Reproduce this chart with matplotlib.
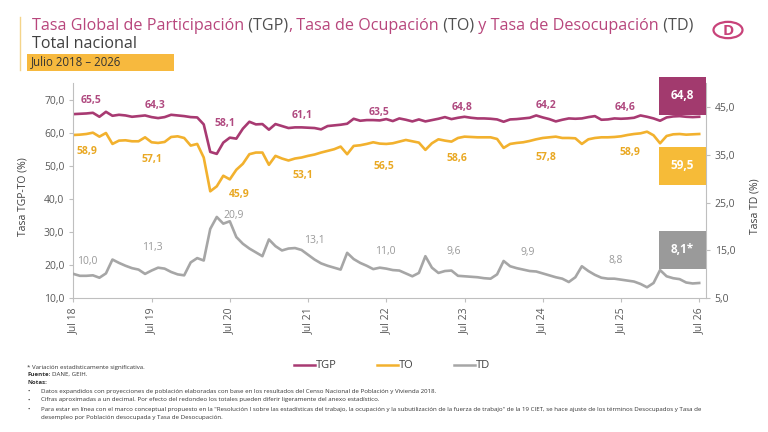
import matplotlib
matplotlib.use("Agg")
import matplotlib.pyplot as plt
from matplotlib.patches import Rectangle, Circle
from matplotlib.lines import Line2D

plt.rcParams['font.family'] = ['Open Sans', 'DejaVu Sans']

# series mensuales jul 2018 - jul 2026
tgp = [65.6, 65.7, 65.8, 66.0, 64.8, 66.3, 65.1, 65.4, 65.2, 64.8, 65.0, 65.2,
       64.7, 64.4, 64.7, 65.4, 65.2, 65.0, 64.7, 64.6, 62.5, 54.2, 53.6, 57.0,
       58.5, 58.2, 61.2, 63.3, 62.5, 62.6, 60.9, 62.6, 62.0, 61.4, 61.6, 61.6,
       61.5, 61.4, 61.0, 62.0, 62.2, 62.4, 62.7, 64.2, 63.6, 63.8, 63.8, 63.7,
       64.1, 63.5, 64.3, 63.9, 63.4, 64.0, 63.4, 63.8, 64.2, 64.7, 64.1, 64.5,
       64.8, 64.5, 64.3, 64.3, 64.2, 64.0, 63.3, 64.0, 64.1, 64.3, 64.5, 65.2,
       64.6, 64.1, 63.4, 63.9, 64.3, 64.2, 64.3, 64.7, 65.0, 63.9, 64.0, 64.3,
       64.2, 64.3, 64.5, 65.2, 64.8, 64.3, 63.6, 64.6, 64.9, 65.0, 64.8, 64.7,
       64.8]
to = [59.3, 59.4, 59.6, 60.0, 58.8, 59.9, 56.6, 57.6, 57.7, 57.4, 57.4, 58.6,
      57.1, 56.9, 57.2, 58.7, 58.9, 58.4, 56.1, 56.6, 52.5, 42.3, 43.8, 47.0,
      45.9, 48.8, 50.6, 53.5, 54.0, 54.0, 50.3, 53.0, 52.2, 51.6, 52.2, 52.5,
      53.0, 53.4, 54.0, 54.5, 55.0, 55.8, 53.5, 56.0, 56.2, 56.6, 57.1, 56.7,
      56.6, 56.8, 57.3, 57.8, 57.4, 57.0, 54.8, 56.8, 58.0, 57.6, 57.3, 58.4,
      58.8, 58.7, 58.6, 58.6, 58.6, 58.1, 55.4, 56.6, 56.9, 57.1, 57.5, 58.0,
      58.4, 58.6, 58.8, 58.4, 58.4, 58.3, 56.6, 58.0, 58.4, 58.6, 58.6, 58.7,
      58.9, 59.3, 59.6, 59.8, 60.3, 59.2, 56.8, 59.0, 59.5, 59.6, 59.4, 59.5,
      59.6]
td = [10.1, 9.7, 9.7, 9.8, 9.3, 10.2, 13.1, 12.4, 11.8, 11.3, 11.0, 10.1,
      10.8, 11.4, 11.2, 10.5, 10.0, 9.8, 12.5, 13.4, 12.9, 19.5, 22.0, 20.6,
      21.1, 17.8, 16.4, 15.4, 14.6, 13.8, 17.3, 15.9, 15.0, 15.4, 15.5, 15.1,
      14.1, 13.1, 12.3, 11.8, 11.4, 11.0, 14.5, 13.2, 12.4, 11.8, 11.1, 11.4,
      11.2, 10.9, 10.8, 10.2, 9.6, 10.3, 13.8, 11.4, 10.3, 10.7, 10.8, 9.7,
      9.6, 9.5, 9.4, 9.2, 9.1, 10.0, 12.8, 11.7, 11.3, 11.0, 10.7, 10.6,
      10.2, 9.8, 9.4, 9.1, 8.4, 9.4, 11.7, 10.7, 9.9, 9.3, 9.1, 9.1,
      8.9, 8.7, 8.5, 8.0, 7.3, 8.2, 10.9, 9.6, 9.2, 9.0, 8.3, 8.1,
      8.2]
tick_labels = ["Jul 18", "Jul 19", "Jul 20", "Jul 21", "Jul 22",
               "Jul 23", "Jul 24", "Jul 25", "Jul 26"]
tgp_jul = [65.5, 64.3, 58.1, 61.1, 63.5, 64.8, 64.2, 64.6]
to_jul = [58.9, 57.1, 45.9, 53.1, 56.5, 58.6, 57.8, 58.9]
td_jul = [10.0, 11.3, 20.9, 13.1, 11.0, 9.6, 9.9, 8.8]
ultimo = ["64,8", "59,5", "8,1*"]

C_TGP = "#A83A72"
C_TO = "#F2B12E"
C_TD = "#A6A6A6"
C_TXT = "#595959"
C_AX = "#BFBFBF"

# desplazamiento de las etiquetas (puntos)
tgp_off = [(12.7, 9.6), (2.2, 8.5), (-3.8, 10.2), (-4.5, 8.6), (-5.3, 4.6),
           (-2, 6.7), (2.4, 8.9), (2.9, 8.1)]
to_off = [(9.6, -12.2), (0, -12.7), (6.6, -10.6), (-4, -14.5), (-1.7, -16.4),
          (-5.4, -15.4), (2.4, -14.1), (6.5, -11.3)]
td_off = [(10.2, 8.6), (0.4, 16.6), (3, 4.5), (4.3, 10.2), (-0.9, 12.3),
          (-7.6, 18), (-10.9, 15.4), (-3.6, 13.8)]


def fmt(v):
    return f"{v:.1f}".replace(".", ",")


fig = plt.figure(figsize=(7.68, 4.32), dpi=100)
ax = fig.add_axes([0.0955, 0.3095, 0.8234, 0.4984])
ax2 = ax.twinx()

x = list(range(len(tgp)))
ax.plot(x, tgp, color=C_TGP, lw=1.9, solid_joinstyle='round')
ax.plot(x, to, color=C_TO, lw=1.9, solid_joinstyle='round')
ax2.plot(x, td, color=C_TD, lw=1.9, solid_joinstyle='round')

ax.set_xlim(0, 97)
ax.set_ylim(10, 75)
ax2.set_ylim(5, 50)

ax.set_xticks(range(0, 97, 12))
ax.set_xticklabels(tick_labels, rotation=90)
ax.set_yticks(range(10, 71, 10))
ax.set_yticklabels([fmt(v) for v in range(10, 71, 10)])
ax2.set_yticks(range(5, 46, 10))
ax2.set_yticklabels([fmt(v) for v in range(5, 46, 10)])

for a in (ax, ax2):
    a.tick_params(colors=C_AX, labelcolor=C_TXT, labelsize=7.5, length=3, width=0.8)
    a.spines['top'].set_visible(False)
for s in ('left', 'bottom'):
    ax.spines[s].set_color(C_AX)
    ax2.spines[s].set_visible(False)
ax.spines['right'].set_visible(False)
ax2.spines['right'].set_color(C_AX)

ax.set_ylabel("Tasa TGP-TO (%)", fontsize=7.5, color="#404040")
ax.yaxis.set_label_coords(-0.071, 0.47)
ax2.set_ylabel("Tasa TD (%)", fontsize=7.5, color="#404040")
ax2.yaxis.set_label_coords(1.07, 0.43)

# etiquetas de julio
for k in range(len(tgp_jul)):
    i = 12 * k
    ax.annotate(fmt(tgp_jul[k]), (i, tgp[i]), xytext=tgp_off[k], textcoords='offset points',
                ha='center', va='center', fontsize=7.5, fontweight='bold', color="#B04A80")
    ax.annotate(fmt(to_jul[k]), (i, to[i]), xytext=to_off[k], textcoords='offset points',
                ha='center', va='center', fontsize=7.5, fontweight='bold', color="#E9A823")
    ax2.annotate(fmt(td_jul[k]), (i, td[i]), xytext=td_off[k], textcoords='offset points',
                 ha='center', va='center', fontsize=7.5, color="#999999")

# cajas con el ultimo dato
cajas = [(0.851, "#A23A6E"), (0.526, "#F6BB38"), (0.136, "#9A9A9A")]
for (y0, c), txt in zip(cajas, ultimo):
    ax2.add_patch(Rectangle((0.926, y0), 0.074, 0.178, transform=ax2.transAxes,
                            facecolor=c, edgecolor='none', clip_on=False, zorder=5))
    ax2.text(0.963, y0 + 0.089, txt, transform=ax2.transAxes, ha='center', va='center',
             color='white', fontsize=8.5, fontweight='bold', zorder=6)

# titulo en varios colores
C_TIT = "#B8467C"
partes = [("Tasa Global de Participación", C_TIT), (" (TGP)", "#505050"), (",", C_TIT),
          (" Tasa de Ocupación", C_TIT), (" (TO)", "#505050"),
          (" y Tasa de Desocupación", C_TIT), (" (TD)", "#505050")]
renderer = fig.canvas.get_renderer()


def ancho(s, size, weight='normal'):
    t1 = fig.text(0, 0, "|" + s + "|", fontsize=size, fontweight=weight)
    t2 = fig.text(0, 0, "||", fontsize=size, fontweight=weight)
    w = t1.get_window_extent(renderer).width - t2.get_window_extent(renderer).width
    t1.remove()
    t2.remove()
    return w


xp = 32
for s, c in partes:
    fig.text(xp / 768, 1 - 29.5 / 432, s, fontsize=11.6, color=c, va='baseline')
    xp += ancho(s, 11.6)

fig.text(32 / 768, 1 - 48.5 / 432, "Total nacional", fontsize=11.6, color="#404040", va='baseline')
fig.patches.append(Rectangle((27 / 768, 1 - 70.5 / 432), 147 / 768, 17 / 432,
                             transform=fig.transFigure, facecolor="#F7B93E",
                             edgecolor='none'))
fig.text(31 / 768, 1 - 62 / 432, "Julio 2018 – 2026", fontsize=8.3, color="#333333", va='center')
fig.lines.append(Line2D([20 / 768, 20 / 768], [1 - 17 / 432, 1 - 70 / 432],
                        transform=fig.transFigure, color="#F4D48A", lw=1))

# logo
fig.patches.append(Circle((728 / 768, 1 - 30 / 432), 14.5 / 768, transform=fig.transFigure,
                          facecolor='none', edgecolor="#C8437A", lw=1.6))
fig.text(728.5 / 768, 1 - 31 / 432, "D", fontsize=11, fontweight='bold', color="#C8437A",
         ha='center', va='center')

# leyenda
handles = [Line2D([], [], color=C_TGP, lw=1.8), Line2D([], [], color=C_TO, lw=1.8),
           Line2D([], [], color=C_TD, lw=1.8)]
fig.legend(handles, ["TGP", "TO", "TD"], loc='center', bbox_to_anchor=(392 / 768, 1 - 366 / 432),
           ncol=3, frameon=False, fontsize=8, handlelength=1.9, handletextpad=0.1,
           columnspacing=3.6, labelcolor="#404040")

# notas
fs = 4.4
fig.text(27 / 768, 1 - 367 / 432, "* Variación estadísticamente significativa.", fontsize=fs,
         color="#333333", va='center')
fig.text(27 / 768, 1 - 374.5 / 432, "Fuente:", fontsize=fs, fontweight='bold',
         color="#333333", va='center')
fig.text((27 + ancho("Fuente: ", fs, 'bold')) / 768, 1 - 374.5 / 432, "DANE, GEIH.",
         fontsize=fs, color="#333333", va='center')
fig.text(27 / 768, 1 - 382 / 432, "Notas:", fontsize=fs, fontweight='bold',
         color="#333333", va='center')
notas = [
    (391, "Datos expandidos con proyecciones de población elaboradas con base en los resultados del Censo Nacional de Población y Vivienda 2018.", True),
    (400, "Cifras aproximadas a un decimal. Por efecto del redondeo los totales pueden diferir ligeramente del anexo estadístico.", True),
    (409, "Para estar en línea con el marco conceptual propuesto en la \"Resolución I sobre las estadísticas del trabajo, la ocupación y la subutilización de la fuerza de trabajo\" de la 19 CIET, se hace ajuste de los términos Desocupados y Tasa de", True),
    (417, "desempleo por Población desocupada y Tasa de Desocupación.", False),
]
for yy, s, bullet in notas:
    if bullet:
        fig.text(27 / 768, 1 - yy / 432, "•", fontsize=fs, color="#333333", va='center')
    fig.text(41 / 768, 1 - yy / 432, s, fontsize=fs, color="#333333", va='center')

fig.savefig("out.png", dpi=100)
